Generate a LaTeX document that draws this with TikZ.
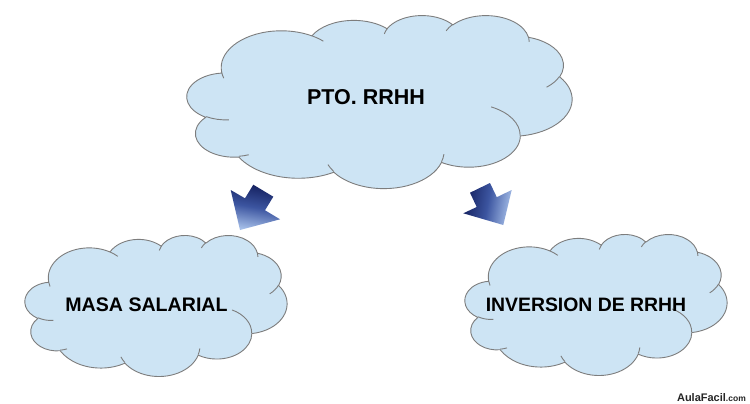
\documentclass[tikz,border=0pt]{standalone}
\usepackage{fontspec}
\setmainfont{Liberation Sans}
\definecolor{cloudfill}{RGB}{205,228,244}
\definecolor{cloudline}{RGB}{125,125,125}
\definecolor{arrdark}{RGB}{20,32,95}
\definecolor{arrmid}{RGB}{60,85,160}
\definecolor{arrlight}{RGB}{165,190,232}
\newcommand\cpt[2]{({#1/43.2},{#2/43.2})}
\newcommand\carc[4]{arc[start angle={atan2((#1)*sin(#3),(#2)*cos(#3))}, delta angle={mod(atan2((#1)*sin((#3)+(#4)),(#2)*cos((#3)+(#4)))-atan2((#1)*sin(#3),(#2)*cos(#3))+720,360)}, x radius={#1/43.2}, y radius={#2/43.2}]}
\newcommand\officecloud[4]{%
\begin{scope}[shift={(#1,#2)}, x=#3pt, y=-#4pt]
\draw[cloudstyle, fill=cloudfill] \cpt{3.900}{14.370}
 \carc{6.753}{9.190}{-190.487}{123.781}
 \carc{5.333}{7.267}{-144.102}{89.945}
 \carc{4.365}{5.945}{-145.808}{99.723}
 \carc{4.857}{6.595}{-130.986}{117.242}
 \carc{5.333}{7.273}{-78.709}{109.027}
 \carc{6.775}{9.220}{-46.267}{130.269}
 \carc{5.785}{7.867}{0.625}{114.033}
 \carc{6.752}{9.215}{22.452}{115.173}
 \carc{7.720}{10.543}{66.243}{75.711}
 \carc{4.360}{5.918}{-274.942}{146.736}
 \carc{4.345}{5.945}{-246.829}{152.519} -- cycle;
\draw[cloudstyle]
 \cpt{4.693}{26.177} \carc{4.345}{5.945}{86.742}{26.430}
 \cpt{6.928}{34.899} \carc{4.360}{5.918}{73.610}{11.447}
 \cpt{16.478}{39.090} \carc{6.752}{9.215}{137.624}{14.081}
 \cpt{28.827}{34.751} \carc{6.752}{9.215}{6.453}{15.998}
 \cpt{34.129}{22.954} \carc{5.785}{7.867}{-70.292}{70.917}
 \cpt{41.798}{15.354} \carc{5.333}{7.273}{30.318}{27.752}
 \cpt{38.324}{5.426} \carc{4.857}{6.595}{-13.744}{14.859}
 \cpt{29.078}{3.952} \carc{4.857}{6.595}{-149.181}{18.195}
 \cpt{22.141}{4.720} \carc{4.365}{5.945}{-163.494}{17.686}
 \cpt{14.000}{5.192} \carc{6.753}{9.190}{-66.707}{12.319}
 \cpt{4.127}{15.789} \carc{6.753}{9.190}{157.654}{11.858};
\end{scope}}
\begin{document}
\begin{tikzpicture}[x=1pt,y=-1pt,
  cloudstyle/.style={draw=cloudline, line width=0.9pt, line join=round},
  label/.style={inner sep=0pt, font=\bfseries, text=black}]
\useasboundingbox (0,0) rectangle (750,404);
\fill[white] (0,0) rectangle (750,404);
% clouds
\officecloud{187}{15}{385}{173}
\officecloud{25}{235}{262}{141}
\officecloud{465}{234}{262}{141}
% labels
\node[label, font=\bfseries\fontsize{21.5}{24}\selectfont] (top) at (366,97) {PTO. RRHH};
\node[label, font=\bfseries\fontsize{19.6}{22}\selectfont] (left) at (146.5,304.5) {MASA SALARIAL};
\node[label, font=\bfseries\fontsize{19.4}{22}\selectfont] (right) at (586,304.5) {INVERSION DE RRHH};
% arrows
\coordinate (la1) at (230.7,190);
\coordinate (la2) at (245,198.3);
\coordinate (la3) at (253.3,184.7);
\coordinate (la4) at (273.3,196.7);
\coordinate (la5) at (265,210.3);
\coordinate (la6) at (280,219.3);
\coordinate (la7) at (240,230);
\shade[top color=arrdark, bottom color=arrlight, middle color=arrmid, shading angle=-10]
  (la1) -- (la2) -- (la3) -- (la4) -- (la5) -- (la6) -- (la7) -- cycle;
\coordinate (ra1) at (470,192.7);
\coordinate (ra2) at (490,183);
\coordinate (ra3) at (496.8,197.2);
\coordinate (ra4) at (511.7,190);
\coordinate (ra5) at (503.3,225);
\coordinate (ra6) at (463.3,213.3);
\coordinate (ra7) at (476.7,207);
\shade[left color=arrdark, right color=arrlight, middle color=arrmid, shading angle=80]
  (ra1) -- (ra2) -- (ra3) -- (ra4) -- (ra5) -- (ra6) -- (ra7) -- cycle;
% watermark
\node[inner sep=0pt, anchor=base east, text=black!85] (wm) at (746,401.5)
  {\fontsize{11}{12}\selectfont\bfseries AulaFacil\fontsize{8.5}{10}\selectfont.com};
\end{tikzpicture}
\end{document}
